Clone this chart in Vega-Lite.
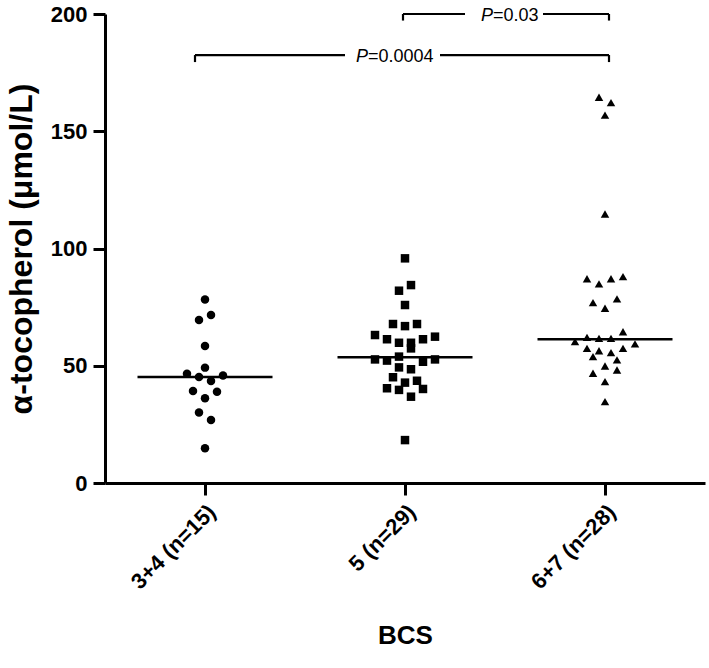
{
  "$schema": "https://vega.github.io/schema/vega-lite/v6.json",
  "width": 600,
  "height": 469,
  "autosize": {"type": "none"},
  "padding": {"left": 105, "top": 14, "right": 4, "bottom": 185},
  "background": "white",
  "config": {
    "view": {"stroke": null},
    "font": "Liberation Sans",
    "axis": {
      "grid": false,
      "domainColor": "black",
      "tickColor": "black",
      "labelColor": "black",
      "titleColor": "black",
      "domainWidth": 3,
      "tickWidth": 3,
      "tickSize": 12,
      "labelFont": "Liberation Sans",
      "titleFont": "Liberation Sans"
    }
  },
  "datasets": {
    "points": [
      {"g": "3+4 (n=15)", "v": 78.3, "lane": 0},
      {"g": "3+4 (n=15)", "v": 69.5, "lane": -1},
      {"g": "3+4 (n=15)", "v": 71.6, "lane": 1},
      {"g": "3+4 (n=15)", "v": 58.4, "lane": 0},
      {"g": "3+4 (n=15)", "v": 49.2, "lane": 0},
      {"g": "3+4 (n=15)", "v": 46.6, "lane": -3},
      {"g": "3+4 (n=15)", "v": 45.2, "lane": -1},
      {"g": "3+4 (n=15)", "v": 45.8, "lane": 3},
      {"g": "3+4 (n=15)", "v": 43.5, "lane": 1},
      {"g": "3+4 (n=15)", "v": 39.2, "lane": -2},
      {"g": "3+4 (n=15)", "v": 38.9, "lane": 2},
      {"g": "3+4 (n=15)", "v": 36.1, "lane": 0},
      {"g": "3+4 (n=15)", "v": 30.1, "lane": -1},
      {"g": "3+4 (n=15)", "v": 26.9, "lane": 1},
      {"g": "3+4 (n=15)", "v": 14.8, "lane": 0},
      {"g": "5 (n=29)", "v": 95.8, "lane": 0},
      {"g": "5 (n=29)", "v": 82.0, "lane": -1},
      {"g": "5 (n=29)", "v": 84.4, "lane": 1},
      {"g": "5 (n=29)", "v": 75.9, "lane": 0},
      {"g": "5 (n=29)", "v": 67.8, "lane": -2},
      {"g": "5 (n=29)", "v": 66.9, "lane": 0},
      {"g": "5 (n=29)", "v": 67.8, "lane": 2},
      {"g": "5 (n=29)", "v": 63.1, "lane": -5},
      {"g": "5 (n=29)", "v": 61.3, "lane": -3},
      {"g": "5 (n=29)", "v": 59.8, "lane": -1},
      {"g": "5 (n=29)", "v": 59.8, "lane": 1},
      {"g": "5 (n=29)", "v": 61.3, "lane": 3},
      {"g": "5 (n=29)", "v": 62.4, "lane": 5},
      {"g": "5 (n=29)", "v": 57.4, "lane": 1},
      {"g": "5 (n=29)", "v": 52.7, "lane": -5},
      {"g": "5 (n=29)", "v": 52.2, "lane": -3},
      {"g": "5 (n=29)", "v": 53.9, "lane": -1},
      {"g": "5 (n=29)", "v": 51.7, "lane": 3},
      {"g": "5 (n=29)", "v": 52.7, "lane": 5},
      {"g": "5 (n=29)", "v": 49.3, "lane": -1},
      {"g": "5 (n=29)", "v": 48.5, "lane": 1},
      {"g": "5 (n=29)", "v": 45.1, "lane": -2},
      {"g": "5 (n=29)", "v": 42.8, "lane": 0},
      {"g": "5 (n=29)", "v": 43.6, "lane": 2},
      {"g": "5 (n=29)", "v": 40.4, "lane": -3},
      {"g": "5 (n=29)", "v": 39.7, "lane": -1},
      {"g": "5 (n=29)", "v": 40.1, "lane": 3},
      {"g": "5 (n=29)", "v": 36.8, "lane": 1},
      {"g": "5 (n=29)", "v": 18.3, "lane": 0},
      {"g": "6+7 (n=28)", "v": 164.5, "lane": -1},
      {"g": "6+7 (n=28)", "v": 162.2, "lane": 1},
      {"g": "6+7 (n=28)", "v": 156.9, "lane": 0},
      {"g": "6+7 (n=28)", "v": 114.7, "lane": 0},
      {"g": "6+7 (n=28)", "v": 87.1, "lane": -3},
      {"g": "6+7 (n=28)", "v": 84.9, "lane": -1},
      {"g": "6+7 (n=28)", "v": 87.1, "lane": 1},
      {"g": "6+7 (n=28)", "v": 88.0, "lane": 3},
      {"g": "6+7 (n=28)", "v": 76.9, "lane": -2},
      {"g": "6+7 (n=28)", "v": 74.5, "lane": 0},
      {"g": "6+7 (n=28)", "v": 78.5, "lane": 2},
      {"g": "6+7 (n=28)", "v": 64.5, "lane": 3},
      {"g": "6+7 (n=28)", "v": 60.3, "lane": -5},
      {"g": "6+7 (n=28)", "v": 62.1, "lane": -3},
      {"g": "6+7 (n=28)", "v": 61.7, "lane": -1},
      {"g": "6+7 (n=28)", "v": 61.7, "lane": 1},
      {"g": "6+7 (n=28)", "v": 59.3, "lane": 5},
      {"g": "6+7 (n=28)", "v": 57.4, "lane": -3},
      {"g": "6+7 (n=28)", "v": 56.4, "lane": -1},
      {"g": "6+7 (n=28)", "v": 57.4, "lane": 3},
      {"g": "6+7 (n=28)", "v": 53.9, "lane": -2},
      {"g": "6+7 (n=28)", "v": 55.6, "lane": 1},
      {"g": "6+7 (n=28)", "v": 52.5, "lane": 2},
      {"g": "6+7 (n=28)", "v": 49.9, "lane": 0},
      {"g": "6+7 (n=28)", "v": 46.8, "lane": -2},
      {"g": "6+7 (n=28)", "v": 48.2, "lane": 2},
      {"g": "6+7 (n=28)", "v": 43.2, "lane": 0},
      {"g": "6+7 (n=28)", "v": 34.7, "lane": 0}
    ],
    "medians": [
      {"g": "3+4 (n=15)", "m": 45.2},
      {"g": "5 (n=29)", "m": 53.6},
      {"g": "6+7 (n=28)", "m": 61.3}
    ],
    "brackets": [
      {"x1": 1.99, "x2": 2.30, "y1": 200, "y2": 200},
      {"x1": 2.69, "x2": 3.02, "y1": 200, "y2": 200},
      {"x1": 1.99, "x2": 1.99, "y1": 200, "y2": 197.2},
      {"x1": 3.02, "x2": 3.02, "y1": 200, "y2": 197.2},
      {"x1": 0.95, "x2": 1.70, "y1": 182.5, "y2": 182.5},
      {"x1": 2.175, "x2": 3.02, "y1": 182.5, "y2": 182.5},
      {"x1": 0.95, "x2": 0.95, "y1": 182.5, "y2": 179.5},
      {"x1": 3.02, "x2": 3.02, "y1": 182.5, "y2": 179.5}
    ],
    "labels": [
      {"x": 2.44, "y": 199.0, "rest": "=0.03"},
      {"x": 1.815, "y": 181.8, "rest": "=0.0004"}
    ]
  },
  "layer": [
    {
      "layer": [
        {
          "data": {"name": "points"},
          "mark": {"type": "point", "filled": true, "color": "black", "size": 72, "opacity": 1},
          "encoding": {
            "x": {
              "field": "g", "type": "nominal",
              "sort": ["3+4 (n=15)", "5 (n=29)", "6+7 (n=28)"],
              "scale": {"type": "band", "paddingInner": 0, "paddingOuter": 0},
              "axis": {
                "title": "BCS",
                "labelAngle": -45,
                "labelFontSize": 22,
                "labelFontWeight": "bold",
                "labelPadding": 6,
                "titleFontSize": 26,
                "titleFontWeight": "bold",
                "titlePadding": 30
              }
            },
            "xOffset": {"field": "lane", "type": "quantitative", "scale": {"domain": [-10, 10], "range": [40, 160]}},
            "y": {
              "field": "v", "type": "quantitative",
              "scale": {"domain": [0, 200]},
              "axis": {
                "values": [0, 50, 100, 150, 200],
                "title": "α-tocopherol (μmol/L)",
                "labelFontSize": 22,
                "labelFontWeight": "bold",
                "labelPadding": 6,
                "titleFontSize": 32,
                "titleFontWeight": "bold",
                "titlePadding": 12
              }
            },
            "shape": {
              "field": "g", "type": "nominal",
              "scale": {"domain": ["3+4 (n=15)", "5 (n=29)", "6+7 (n=28)"], "range": ["circle", "square", "triangle-up"]},
              "legend": null
            }
          }
        },
        {
          "data": {"name": "medians"},
          "mark": {"type": "tick", "color": "black", "size": 135, "thickness": 2.5, "orient": "horizontal", "opacity": 1},
          "encoding": {
            "x": {"field": "g", "type": "nominal", "sort": ["3+4 (n=15)", "5 (n=29)", "6+7 (n=28)"]},
            "y": {"field": "m", "type": "quantitative"}
          }
        }
      ]
    },
    {
      "layer": [
        {
          "data": {"name": "brackets"},
          "mark": {"type": "rule", "color": "black", "strokeWidth": 2.2},
          "encoding": {
            "x": {"field": "x1", "type": "quantitative", "scale": {"domain": [0.5, 3.5], "nice": false, "zero": false}, "axis": null},
            "x2": {"field": "x2"},
            "y": {"field": "y1", "type": "quantitative"},
            "y2": {"field": "y2"}
          }
        },
        {
          "data": {"name": "labels"},
          "mark": {"type": "text", "text": "P", "fontStyle": "italic", "fontSize": 18, "align": "right", "baseline": "middle", "color": "black", "font": "Liberation Sans"},
          "encoding": {
            "x": {"field": "x", "type": "quantitative", "axis": null},
            "y": {"field": "y", "type": "quantitative"}
          }
        },
        {
          "data": {"name": "labels"},
          "mark": {"type": "text", "fontSize": 18, "align": "left", "baseline": "middle", "color": "black", "font": "Liberation Sans"},
          "encoding": {
            "x": {"field": "x", "type": "quantitative", "axis": null},
            "y": {"field": "y", "type": "quantitative"},
            "text": {"field": "rest"}
          }
        }
      ]
    }
  ],
  "resolve": {"scale": {"x": "independent"}}
}
